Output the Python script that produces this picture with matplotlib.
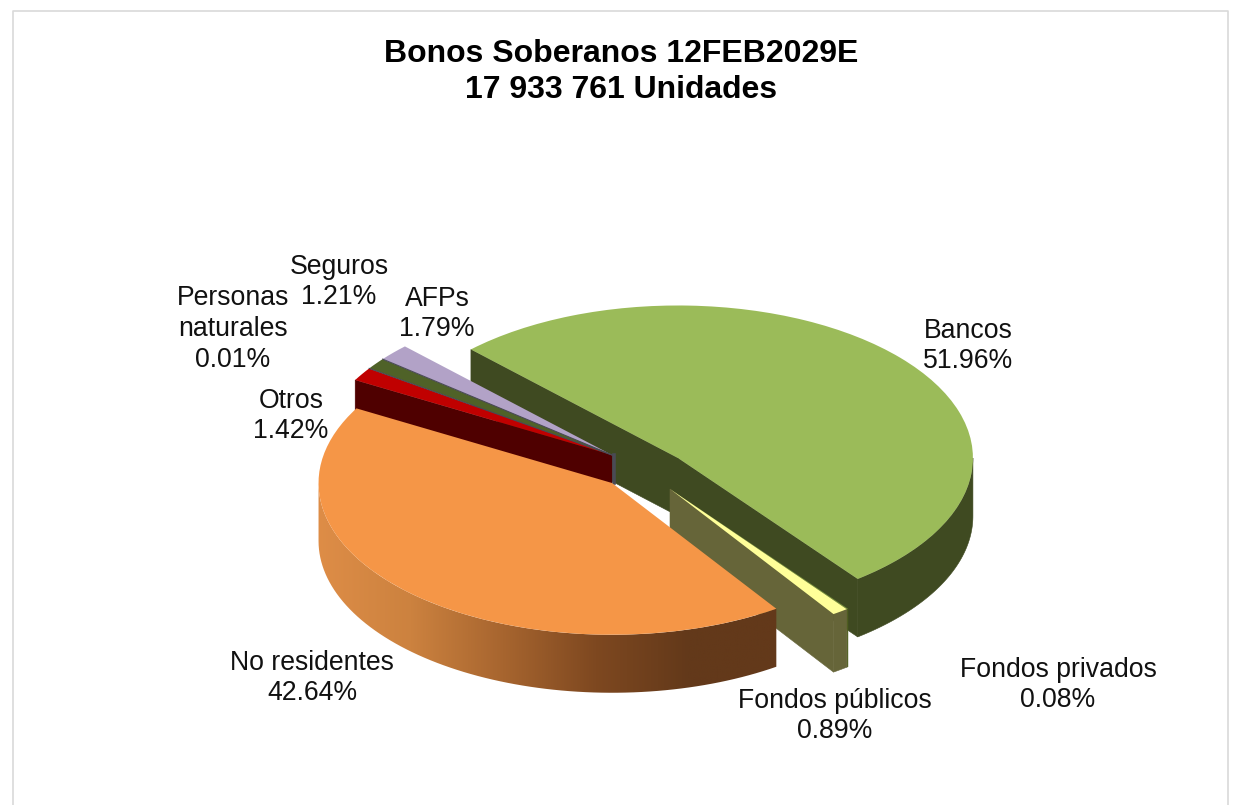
import matplotlib
matplotlib.use('Agg')
import matplotlib.pyplot as plt
from matplotlib.colors import LinearSegmentedColormap
from matplotlib.lines import Line2D
from matplotlib.patches import Polygon
import numpy as np

plt.rcParams['font.family'] = ['Liberation Sans', 'DejaVu Sans']

W, H = 1236, 805

names = ['Bancos', 'Fondos privados', 'Fondos públicos', 'No residentes', 'Otros',
         'Personas\nnaturales', 'Seguros', 'AFPs']
shares = [51.96, 0.08, 0.89, 42.64, 1.42, 0.01, 1.21, 1.79]
title = 'Bonos Soberanos 12FEB2029E\n17 933 761 Unidades'

top_colors = ['#9BBB59', '#76923C', '#FFFF99', '#F59647', '#C00000', '#4A4A55', '#4F6228', '#B2A2C7']
wall_colors = ['#3F4A21', '#4F5F20', '#666539', None, '#4F0000', '#4A4A55', '#333F18', '#4A4255']

# pie unit circle -> pixels, the pie is squashed to look 3d
RX, RY = 292.0, 151.0
CX, CY = 612.0, 483.0
DEPTH = 58 / RY
START = 134.6

# how far each slice is pulled out (pixels right, pixels up)
pull_px = [(66, 25), (58, -6), (58, -6), (0, 0), (0, 28), (0, 28), (0, 28), (0, 28)]
radius = [1.01, 1, 1, 1.005, 1.01, 1.01, 1.01, 1.01]
layer = [1, 5, 5, 7, 3, 3, 3, 3]
# label centres in image pixels
label_px = [(968, 346), (1058, 685), (835, 716), (312, 678), (291, 416),
            (233, 329), (339, 282), (437, 314)]

fig = plt.figure(figsize=(W / 100, H / 100), dpi=100)
ax = fig.add_axes([0, 0, 1, 1])
wedges, _ = ax.pie(shares, startangle=START, counterclock=False, radius=1,
                   colors=top_colors, wedgeprops={'linewidth': 0})


def rim(cx, cy, deg, r=1):
    return cx + r * np.cos(np.radians(deg)), cy + r * np.sin(np.radians(deg))


def side_wall(cx, cy, t1, t2, r=1):
    t = np.linspace(t1, t2, 80)
    x, y = rim(cx, cy, t, r)
    top = np.column_stack([x, y])
    bottom = np.column_stack([x, y - DEPTH])[::-1]
    return np.vstack([top, bottom])


def radial_wall(cx, cy, deg, r=1):
    x, y = rim(cx, cy, deg, r)
    return np.array([[cx, cy], [x, y], [x, y - DEPTH], [cx, cy - DEPTH]])


def add_wall(points, color, z):
    ax.add_patch(Polygon(points, fc=color, ec=color, lw=0.4, zorder=z))


for i, w in enumerate(wedges):
    cx, cy = pull_px[i][0] / RX, pull_px[i][1] / RY
    r = radius[i]
    w.set_center((cx, cy))
    w.set_radius(r)
    w.set_zorder(layer[i] + 1)
    t1, t2 = w.theta1 % 360, w.theta2 % 360
    if t2 < t1:
        t2 += 360
    name = names[i]
    if name == 'Bancos':
        add_wall(radial_wall(cx, cy, t1, r), wall_colors[i], layer[i])
        add_wall(radial_wall(cx, cy, t2, r), wall_colors[i], layer[i])
        add_wall(side_wall(cx, cy, t1, 360, r), wall_colors[i], layer[i])
    elif name == 'Fondos públicos':
        add_wall(radial_wall(cx, cy, t1), wall_colors[i], layer[i])
        add_wall(side_wall(cx, cy, t1, t2), wall_colors[i], layer[i])
    elif name == 'Fondos privados':
        add_wall(side_wall(cx, cy, t1, t2), wall_colors[i], layer[i])
    elif name == 'No residentes':
        clip = Polygon(side_wall(cx, cy, 180, t2, r), fc='none', lw=0, zorder=layer[i])
        ax.add_patch(clip)
        cmap = LinearSegmentedColormap.from_list(
            'wall', ['#DE8D47', '#CC823F', '#A7652F', '#7E4820', '#63391A', '#63391A'])
        im = ax.imshow(np.linspace(0, 1, 256)[None, :], cmap=cmap, aspect='auto',
                       extent=(-1.01, 170 / RX, -1.5, 0.2), zorder=layer[i])
        im.set_clip_path(clip)
    elif name == 'Otros':
        add_wall(radial_wall(cx, cy, t2, r), wall_colors[i], layer[i])
        # grey sliver at the tip of the small slices
        ax.add_line(Line2D([cx + 2 / RX, cx + 2 / RX], [cy, cy - 28 / RY], color='#4A4A55',
                           lw=2.6, zorder=layer[i] + 1))

# thin grey seams between the small slices
for i in (6, 7):
    cx, cy = pull_px[i][0] / RX, pull_px[i][1] / RY
    x, y = rim(cx, cy, wedges[i].theta2, radius[i])
    ax.plot([cx, x], [cy, y], color='#4A4A55', lw=0.8, zorder=layer[i] + 2)

ax.set_aspect('auto')
ax.set_xlim(-CX / RX, (W - CX) / RX)
ax.set_ylim(-(H - CY) / RY, CY / RY)
ax.set_axis_off()

for i, name in enumerate(names):
    px, py = label_px[i]
    fig.text(px / W, 1 - py / H, f'{name}\n{shares[i]:.2f}%', ha='center', va='center',
             fontsize=19.2, color='#111111', linespacing=1.24)

fig.text(621 / W, 1 - 72 / H, title, ha='center', va='center', fontsize=23,
         fontweight='bold', color='black', linespacing=1.29)

# chart frame, runs off the bottom of the picture
frame_x = [13 / W, 13 / W, 1228 / W, 1228 / W]
frame_y = [0, 1 - 11 / H, 1 - 11 / H, 0]
fig.add_artist(Line2D(frame_x, frame_y, color='#D9D9D9', lw=1.2))

fig.savefig('out.png', dpi=100)
